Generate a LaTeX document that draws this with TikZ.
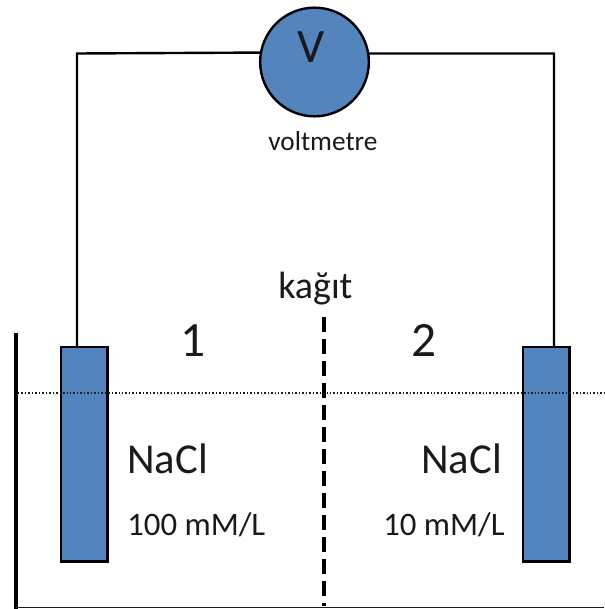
\documentclass[tikz,border=0pt]{standalone}
\usepackage{fontspec}
\setmainfont{Carlito}
\definecolor{fillblue}{HTML}{5484BD}
\definecolor{ink}{HTML}{1A1A1A}
\tikzset{
  electrode/.style={draw=black,line width=1.8pt,fill=fillblue,minimum width=35pt,minimum height=161pt,inner sep=0pt,outer sep=0pt,anchor=north west},
  meter/.style={circle,draw=black,line width=1.8pt,fill=fillblue,minimum size=81.5pt,inner sep=0pt,outer sep=0pt},
  wire/.style={draw=black,line width=1.8pt},
  label/.style={inner sep=0pt,anchor=base west,text=ink},
  vmark/.style={font=\fontsize{36}{36}\selectfont},
  big/.style={font=\fontsize{37}{37}\selectfont},
  mid/.style={font=\fontsize{32}{32}\selectfont},
  paperlabel/.style={font=\fontsize{28.5}{28.5}\selectfont},
  small/.style={font=\fontsize{24.6}{24.6}\selectfont},
  tiny/.style={font=\fontsize{20.5}{20.5}\selectfont},
}
\begin{document}
\begin{tikzpicture}[x=0.75pt,y=-0.75pt]
\useasboundingbox (0,0) rectangle (604,609);
\fill[white] (0,0) rectangle (604,609);
% electrodes and meter
\node[electrode] (e1) at (60.7,347) {};
\node[electrode] (e2) at (522.7,347) {};
\node[meter] (vm) at (314.5,62) {};
% wire corners
\coordinate (c1) at (77,53.5);
\coordinate (c2) at (554,53.5);
\coordinate (b1) at (77,347);
\coordinate (b2) at (554,347);
\draw[wire] (vm.170.6) -- (c1) -- (b1);
\draw[wire] (vm.9.4) -- (c2) -- (b2);
% tank
\coordinate (t1) at (15.5,333);
\coordinate (t2) at (15.5,609);
\coordinate (t3) at (604,607.5);
\coordinate (t4) at (15.5,607.5);
\draw[black,line width=3pt] (t1) -- (t2);
\draw[ink,line width=0.9pt] (t4) -- (t3);
% water level
\coordinate (l1) at (18,393);
\coordinate (l2) at (604,393);
\draw[ink,line width=1.1pt,dash pattern=on 1.1pt off 1.5pt] (l1) -- (l2);
% paper
\coordinate (p1) at (323.5,317);
\coordinate (p2) at (323.5,606);
\draw[black,line width=3pt,dash pattern=on 11pt off 5.5pt] (p1) -- (p2);
% texts
\node[label,vmark] (v) at (297,63) {V};
\node[label,tiny] (vt) at (268,150.5) {voltmetre};
\node[label,paperlabel] (k) at (278,298) {kağıt};
\node[label,big] (n1) at (180,356) {1};
\node[label,big] (n2) at (411,356) {2};
\node[label,mid] (s1) at (127,473) {NaCl};
\node[label,mid] (s2) at (421,473) {NaCl};
\node[label,small] (c1t) at (127,535) {100 mM/L};
\node[label,small] (c2t) at (383,535) {10 mM/L};
\end{tikzpicture}
\end{document}
